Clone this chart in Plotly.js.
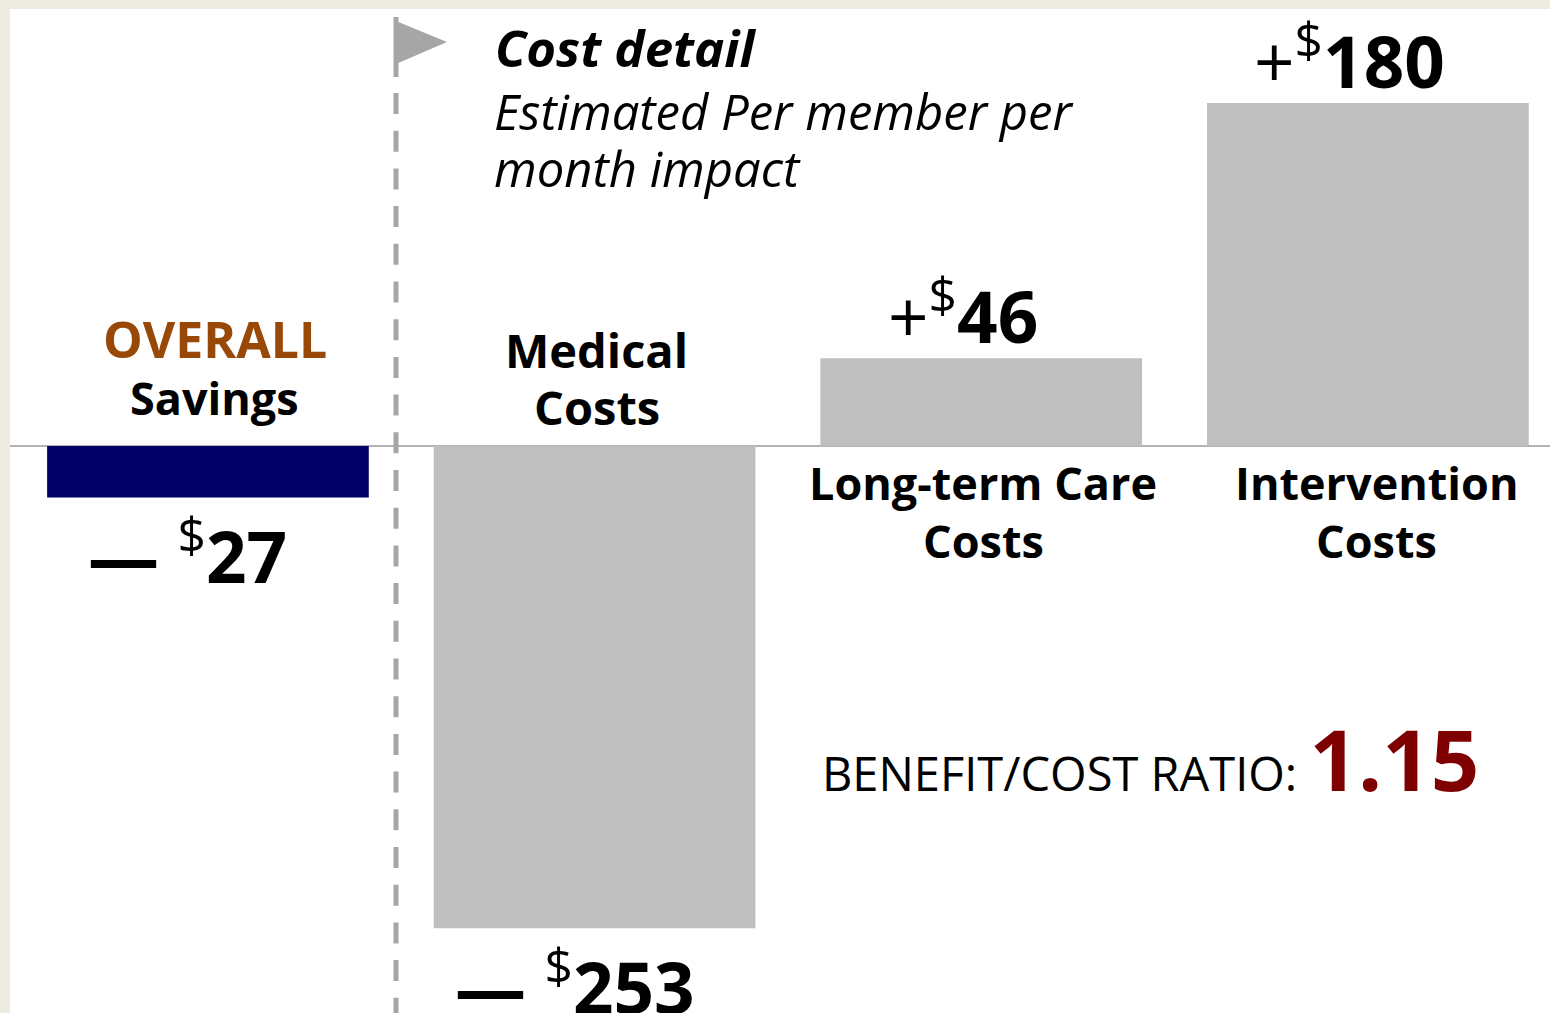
<!DOCTYPE html>
<html><head><meta charset="utf-8">
<script src="https://cdn.plot.ly/plotly-3.0.1.min.js"></script>
<style>html,body{margin:0;padding:0;background:#eeece1;}</style>
</head><body>
<div id="chart" style="width:1550px;height:1013px;"></div>
<script>
// ---- data ----
const categories = ['OVERALL Savings', 'Medical Costs', 'Long-term Care Costs', 'Intervention Costs'];
const labelLines = [['OVERALL', 'Savings'], ['Medical', 'Costs'], ['Long-term Care', 'Costs'], ['Intervention', 'Costs']];
const values = [-27, -253, 46, 180];
const titleText = 'Cost detail';
const subtitleLines = ['Estimated Per member per', 'month impact'];
const ratioLabel = 'BENEFIT/COST RATIO:';
const ratioValue = '1.15';

// ---- style ----
const W = 1550, H = 1013, ML = 10, MT = 9;
const FONT = '"Open Sans", "Liberation Sans", sans-serif';
const barColors = values.map((v, i) => i === 0 ? '#000066' : '#bfbfbf');
const px = p => (p - ML) / (W - ML);
const py = p => (H - p) / (H - MT);

function valueText(v) {
  const n = Math.abs(v);
  const dollar = '<sup><span style="font-weight:normal">$</span></sup>';
  return v < 0
    ? '— ' + dollar + n
    : '<span style="font-weight:normal">+</span>' + dollar + n;
}

const annotations = [];
// value labels
values.forEach((v, i) => {
  annotations.push({
    x: categories[i], y: v, xref: 'x', yref: 'y',
    text: valueText(v), showarrow: false,
    xanchor: 'center', yanchor: 'middle',
    xshift: v < 0 ? -20 : -18, yshift: v < 0 ? -55 : 46,
    font: {family: FONT, size: 71, color: '#000000', weight: 700}
  });
});
// category labels (line centres relative to zero line, px above zero)
const lineShifts = [[107, 49], [96, 39], [-36, -94], [-36, -94]];
const lineX = [7, 2, 2, 9];
const lineSizes = [[50, 45], [47, 47], [45, 45], [45, 45]];
labelLines.forEach((lines, i) => {
  lines.forEach((t, j) => {
    const isOverall = (i === 0 && j === 0);
    annotations.push({
      x: categories[i], y: 0, xref: 'x', yref: 'y',
      text: t, showarrow: false, xanchor: 'center', yanchor: 'middle',
      xshift: lineX[i], yshift: lineShifts[i][j],
      font: {family: FONT, size: lineSizes[i][j], color: isOverall ? '#984807' : '#000000', weight: 700}
    });
  });
});
// title block
annotations.push({
  x: px(493), y: py(47), xref: 'paper', yref: 'paper', xanchor: 'left', yanchor: 'middle',
  text: titleText, showarrow: false,
  font: {family: FONT, size: 51, color: '#000000', weight: 700, style: 'italic'}
});
subtitleLines.forEach((t, j) => {
  annotations.push({
    x: px(492), y: py(j === 0 ? 111 : 168), xref: 'paper', yref: 'paper', xanchor: 'left', yanchor: 'middle',
    text: t, showarrow: false,
    font: {family: FONT, size: 49, color: '#000000', style: 'italic'}
  });
});
// ratio
annotations.push({
  x: px(820), y: py(758), xref: 'paper', yref: 'paper', xanchor: 'left', yanchor: 'middle',
  text: ratioLabel + ' <span style="font-size:85px;font-weight:bold;color:#7f0000">' + ratioValue + '</span>',
  showarrow: false,
  font: {family: FONT, size: 47, color: '#000000'}
});

const shapes = [
  // dashed separator
  {type: 'line', xref: 'paper', yref: 'paper', x0: px(396), x1: px(396), y0: py(93), y1: 0,
   line: {color: '#a6a6a6', width: 5, dash: '21px,16.7px'}},
  // flag pole
  {type: 'line', xref: 'paper', yref: 'paper', x0: px(396), x1: px(396), y0: py(17), y1: py(77),
   line: {color: '#a6a6a6', width: 5}},
  // flag
  {type: 'path', xref: 'paper', yref: 'paper',
   path: `M ${px(396)},${py(21)} L ${px(447)},${py(42)} L ${px(396)},${py(64)} Z`,
   fillcolor: '#a6a6a6', line: {width: 0}}
];

const trace = {
  type: 'bar', x: categories, y: values, width: 0.832,
  marker: {color: barColors, line: {width: 0}},
  hoverinfo: 'skip', textposition: 'none'
};

const layout = {
  width: W, height: H,
  margin: {l: ML, r: 0, t: MT, b: 0, pad: 0},
  paper_bgcolor: '#eeece1', plot_bgcolor: '#ffffff',
  showlegend: false,
  font: {family: FONT},
  xaxis: {type: 'category', range: [-0.512, 3.471], showgrid: false, zeroline: false,
          showticklabels: false, ticks: '', showline: false, fixedrange: true},
  yaxis: {range: [-297.5, 229.3], showgrid: false, zeroline: true, zerolinecolor: '#b3b3b3',
          zerolinewidth: 1.5, showticklabels: false, ticks: '', showline: false, fixedrange: true},
  annotations: annotations, shapes: shapes
};

Plotly.newPlot('chart', [trace], layout, {displayModeBar: false, staticPlot: true});
</script>
</body></html>
